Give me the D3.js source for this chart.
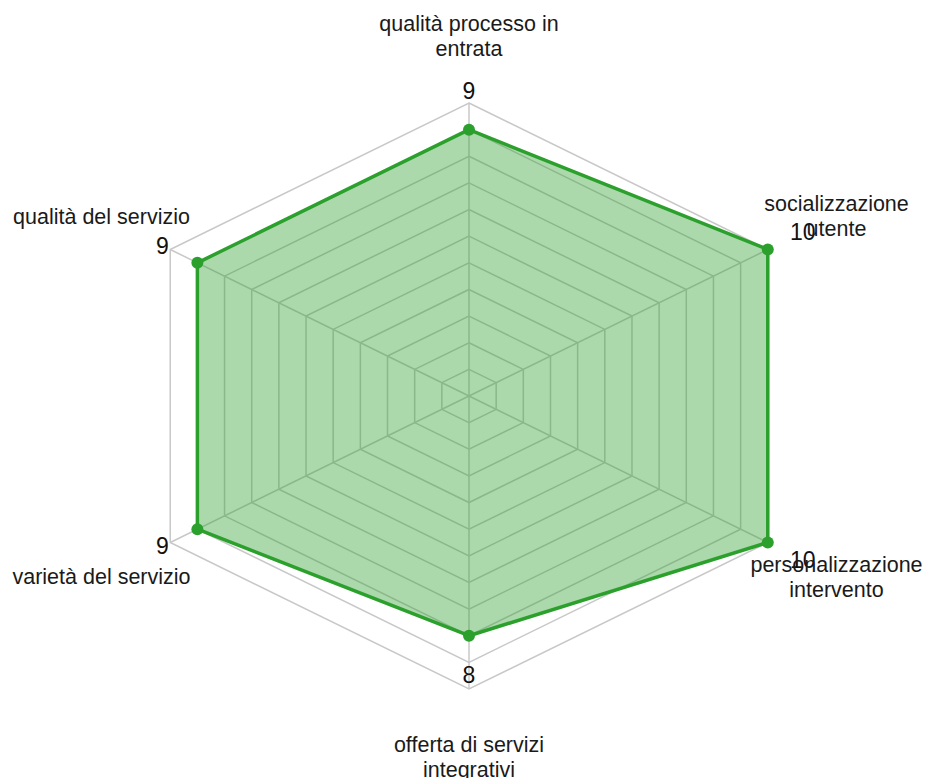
<!DOCTYPE html>
<html>
<head>
<meta charset="utf-8">
<script src="https://cdn.jsdelivr.net/npm/d3@7"></script>
<style>
  html, body { margin: 0; padding: 0; background: #fff; }
  svg { display: block; font-family: "Liberation Sans", Arial, Helvetica, sans-serif; }
</style>
</head>
<body>
<div id="chart"></div>
<script>
// axes, clockwise from the top
const categories = [
  'qualità processo in entrata',
  'socializzazione utente',
  'personalizzazione intervento',
  'offerta di servizi integrativi',
  'varietà del servizio',
  'qualità del servizio'
];
const values = [9, 10, 10, 8, 9, 9];
const ringTicks = [0, 1, 2, 3, 4, 5, 6, 7, 8, 9, 10];

const width = 925;
const height = 778;
const cx = 469;
const cy = 396;
const rx = 345;   // chart is stretched horizontally
const ry = 293;
const green = '#2ca02c';
const gridColor = '#c8c8c8';

const svg = d3.select('#chart').append('svg')
  .attr('width', width)
  .attr('height', height);

const r = d3.scaleLinear().domain([-1, 10]).range([0, 1]);
const angle = d3.scalePoint().domain(d3.range(categories.length)).range([0, 2 * Math.PI * (categories.length - 1) / categories.length]);

function pos(i, t) {
  const a = angle(i);
  return [cx + rx * t * Math.sin(a), cy - ry * t * Math.cos(a)];
}

// grid rings
const grid = svg.append('g');
grid.selectAll('polygon')
  .data(ringTicks)
  .join('polygon')
  .attr('points', (v) => categories.map((c, i) => pos(i, r(v)).join(',')).join(' '))
  .attr('fill', 'none')
  .attr('stroke', gridColor)
  .attr('stroke-width', 1.5);

// spokes
grid.selectAll('line')
  .data(categories)
  .join('line')
  .attr('x1', cx)
  .attr('y1', cy)
  .attr('x2', (d, i) => pos(i, r(10))[0])
  .attr('y2', (d, i) => pos(i, r(10))[1])
  .attr('stroke', gridColor)
  .attr('stroke-width', 1.5);

// data area
const pts = values.map((v, i) => pos(i, r(v)));
svg.append('polygon')
  .attr('points', pts.map((p) => p.join(',')).join(' '))
  .attr('fill', green)
  .attr('fill-opacity', 0.4)
  .attr('stroke', green)
  .attr('stroke-width', 3.5)
  .attr('stroke-linejoin', 'round');

svg.append('g').selectAll('circle')
  .data(pts)
  .join('circle')
  .attr('cx', (p) => p[0])
  .attr('cy', (p) => p[1])
  .attr('r', 6)
  .attr('fill', green);

// value labels, pushed outward from each point
svg.append('g').selectAll('text')
  .data(values)
  .join('text')
  .attr('x', (v, i) => {
    const a = angle(i);
    const dx = rx * Math.sin(a), dy = -ry * Math.cos(a);
    return pts[i][0] + 39 * dx / Math.hypot(dx, dy);
  })
  .attr('y', (v, i) => {
    const a = angle(i);
    const dx = rx * Math.sin(a), dy = -ry * Math.cos(a);
    return pts[i][1] + 39 * dy / Math.hypot(dx, dy);
  })
  .attr('text-anchor', 'middle')
  .attr('dominant-baseline', 'central')
  .attr('font-size', 23)
  .attr('fill', '#111')
  .text((v) => v);

// axis names, wrapped
const lineHeight = 25;
const maxLine = 182;
const names = svg.append('g').selectAll('text')
  .data(categories)
  .join('text')
  .attr('text-anchor', 'middle')
  .attr('font-size', 21.5)
  .attr('fill', '#1a1a1a');

names.each(function (d, i) {
  const el = d3.select(this);
  const p = pos(i, 1.23);
  const words = d.split(' ');
  const lines = [];
  let cur = [];
  const probe = el.append('tspan');
  words.forEach((w) => {
    const next = cur.concat(w);
    probe.text(next.join(' '));
    if (cur.length && probe.node().getComputedTextLength() > maxLine) {
      lines.push(cur.join(' '));
      cur = [w];
    } else {
      cur = next;
    }
  });
  lines.push(cur.join(' '));
  probe.remove();
  lines.forEach((l, k) => {
    el.append('tspan')
      .attr('x', p[0])
      .attr('y', p[1] + 1 + (k - (lines.length - 1) / 2) * lineHeight)
      .attr('dominant-baseline', 'central')
      .text(l);
  });
});
</script>
</body>
</html>
